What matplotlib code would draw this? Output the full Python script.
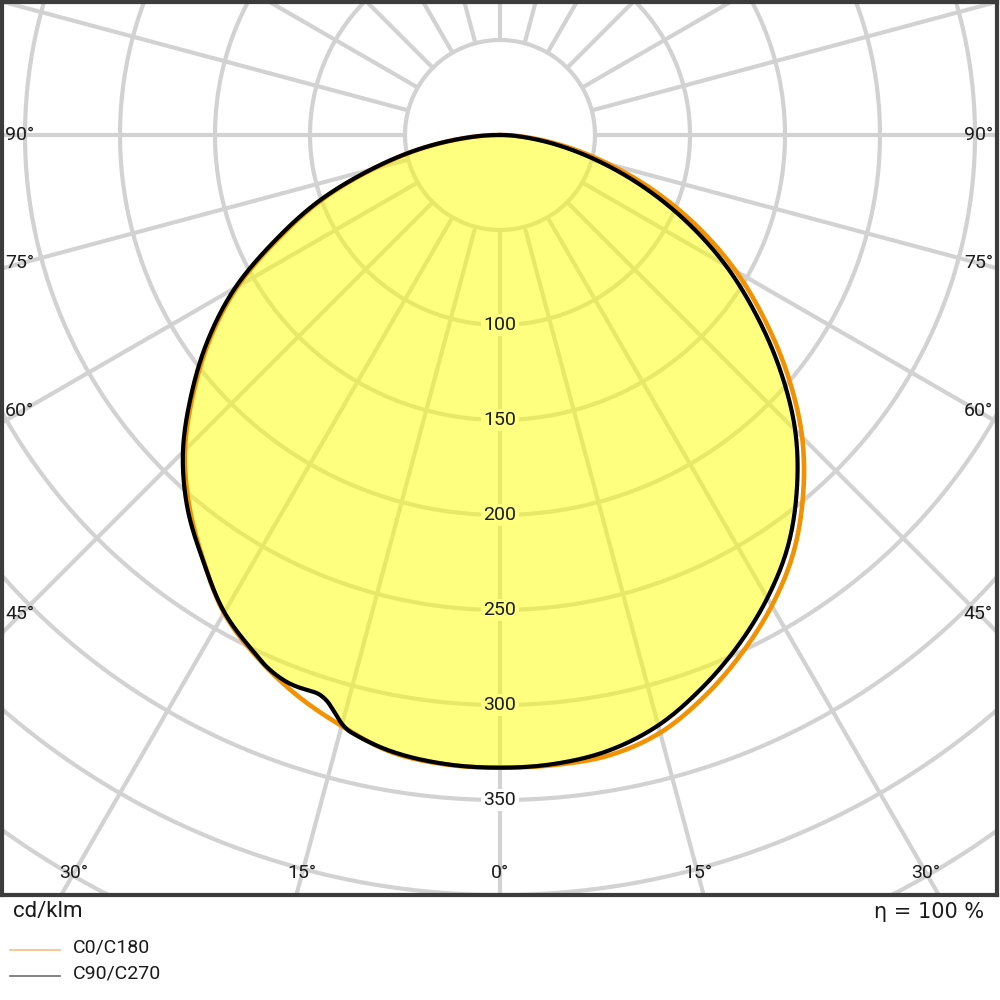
import numpy as np
import matplotlib
matplotlib.use("Agg")
import matplotlib.pyplot as plt
from matplotlib.lines import Line2D

# ---------------- data (cd/klm) ----------------
gamma_c0 = [0, 5, 10, 15, 20, 25, 30, 35, 40, 45, 50, 55, 60, 65, 70, 75, 80, 85, 90]
i_c0 = [333, 332.8, 331.5, 325.7, 314.5, 301, 286.1, 269, 248.1, 224.9, 198.1, 170.4, 143.4,
        115.2, 86.8, 59.4, 35.3, 14.9, 1]

gamma_c180 = [0, 5, 10, 15, 20, 25, 30, 35, 40, 45, 50, 55, 60, 65, 70, 75, 80, 85, 90]
i_c180 = [333, 332.5, 329.8, 322, 313.5, 303, 290.5, 272.5, 254.5, 234.5, 210.5, 186, 159.5,
          128.5, 100, 69.5, 43, 19, 1]

gamma_c90 = [0, 5, 10, 15, 20, 25, 30, 35, 40, 45, 50, 55, 60, 65, 70, 75, 80, 85, 90]
i_c90 = [333, 332.2, 329, 321.7, 310, 296.5, 281.4, 264.2, 243.1, 219.7, 192.5, 164.4, 137.1,
         108.7, 80.8, 54.4, 31.3, 12.4, 1]

gamma_c270 = [0, 5, 10, 14, 15, 16, 17, 18, 19, 20, 21, 22, 23, 24, 25, 30, 35, 40, 45,
              50, 55, 60, 65, 70, 75, 80, 85, 90]
i_c270 = [333, 332.3, 329.4, 324, 321, 316, 311.5, 309.3, 309.2, 309.4, 309.2, 308.3, 306.9,
          305, 302.5, 290.1, 272.8, 256, 236, 212, 187.5, 161, 130, 101.2, 70.4, 43.7,
          19.2, 1]

ring_values = [50, 100, 150, 200, 250, 300, 350, 400, 450, 500, 550]
ring_labels = [100, 150, 200, 250, 300, 350]
radial_angles = list(range(0, 360, 15))
side_angle_labels = [90, 75, 60, 45]
bottom_angle_labels = [-30, -15, 0, 15, 30]

series_names = ["C0/C180", "C90/C270"]
eta_text = "η = 100 %"
unit_text = "cd/klm"

# ---------------- style ----------------
FONT = ["Roboto", "DejaVu Sans"]
plt.rcParams["font.family"] = FONT
GRID = "#d2d2d2"
ORANGE = "#f39200"
TXT = "#1a1a1a"
FS = 14

S = 1.9  # px per cd/klm

fig = plt.figure(figsize=(10, 10), dpi=100)
ax = fig.add_axes([0.002, 0.105, 0.995, 0.893])
ax.set_xlim(-498 / S, 497 / S)
ax.set_ylim(-760 / S, 133 / S)
ax.set_xticks([])
ax.set_yticks([])
for sp in ax.spines.values():
    sp.set_linewidth(3.0)
    sp.set_color("#3c3c3c")
    sp.set_zorder(10)

# grid rings
t = np.linspace(0, 2 * np.pi, 721)
for r in ring_values:
    ax.plot(r * np.cos(t), r * np.sin(t), color=GRID, lw=3, zorder=1, solid_capstyle="butt")
# radial lines
for a in radial_angles:
    g = np.radians(a)
    ax.plot([50 * np.sin(g), 800 * np.sin(g)], [-50 * np.cos(g), -800 * np.cos(g)],
            color=GRID, lw=3, zorder=1, solid_capstyle="butt")


def hermite(g, v, step=0.25):
    """Smooth drawing of a half curve (cubic Hermite through the read values)."""
    g = np.asarray(g, float)
    v = np.asarray(v, float)
    n = len(g)
    m = np.zeros(n)
    for k in range(1, n - 1):
        m[k] = (v[k + 1] - v[k - 1]) / (g[k + 1] - g[k - 1])
    m[0] = 0.0
    m[-1] = (v[-1] - v[-2]) / (g[-1] - g[-2])
    gg = np.arange(g[0], g[-1] + 1e-9, step)
    out = np.empty_like(gg)
    for j, x in enumerate(gg):
        k = min(np.searchsorted(g, x, side="right") - 1, n - 2)
        h = g[k + 1] - g[k]
        s = (x - g[k]) / h
        h00 = 2 * s**3 - 3 * s**2 + 1
        h10 = s**3 - 2 * s**2 + s
        h01 = -2 * s**3 + 3 * s**2
        h11 = s**3 - s**2
        out[j] = h00 * v[k] + h10 * h * m[k] + h01 * v[k + 1] + h11 * h * m[k + 1]
    return gg, np.maximum(out, 0)


def curve_xy(g_left, i_left, g_right, i_right):
    gl, il = hermite(g_left, i_left)
    gr, ir = hermite(g_right, i_right)
    gl = np.radians(gl)[::-1]
    il = il[::-1]
    gr = np.radians(gr)[1:]
    ir = ir[1:]
    x = np.concatenate([-il * np.sin(gl), ir * np.sin(gr)])
    y = np.concatenate([-il * np.cos(gl), -ir * np.cos(gr)])
    return x, y


xo, yo = curve_xy(gamma_c180, i_c180, gamma_c0, i_c0)
xb, yb = curve_xy(gamma_c270, i_c270, gamma_c90, i_c90)

ax.fill(xb, yb, color="#ffff00", alpha=0.5, lw=0, zorder=2)
ax.plot(xo, yo, color=ORANGE, lw=3.3, zorder=3, solid_joinstyle="round")
ax.plot(xb, yb, color="black", lw=3.0, zorder=4, solid_joinstyle="round")

# ring labels
for v in ring_labels:
    bg = "white" if v > 340 else "#ffff80"
    ax.text(0, -v, str(v), ha="center", va="center", fontsize=FS,
            color=TXT, zorder=6,
            bbox=dict(boxstyle="square,pad=0.12", fc=bg, ec="none"))

# side angle labels
for a in side_angle_labels:
    yv = 0 if a == 90 else -252 / np.tan(np.radians(a))
    ax.text(-495 / S, yv, f"{a}°", ha="left", va="center", fontsize=FS,
            color=TXT, zorder=6)
    ax.text(493 / S, yv, f"{a}°", ha="right", va="center", fontsize=FS,
            color=TXT, zorder=6)

# bottom angle labels
yb_lab = -(873 - 135) / S
for a in bottom_angle_labels:
    ax.text(-yb_lab * np.tan(np.radians(a)), yb_lab, f"{abs(a)}°", ha="center", va="center",
            fontsize=FS, color=TXT, zorder=6)

# footer texts
fig.text(0.013, 0.089, unit_text, ha="left", va="center", fontsize=16, color=TXT)
fig.text(0.984, 0.088, eta_text, ha="right", va="center", fontsize=15, color=TXT,
         family=["DejaVu Sans"])

# legend
leg_colors = ["#f8c48c", "#7a7a7a"]
for k, (name, c) in enumerate(zip(series_names, leg_colors)):
    yy = 0.050 - k * 0.026
    fig.add_artist(Line2D([0.010, 0.060], [yy, yy], color=c, lw=1.3, transform=fig.transFigure))
    fig.text(0.073, yy + 0.002, name, ha="left", va="center", fontsize=FS, color=TXT)

fig.savefig("out.png", dpi=100, facecolor="white")
